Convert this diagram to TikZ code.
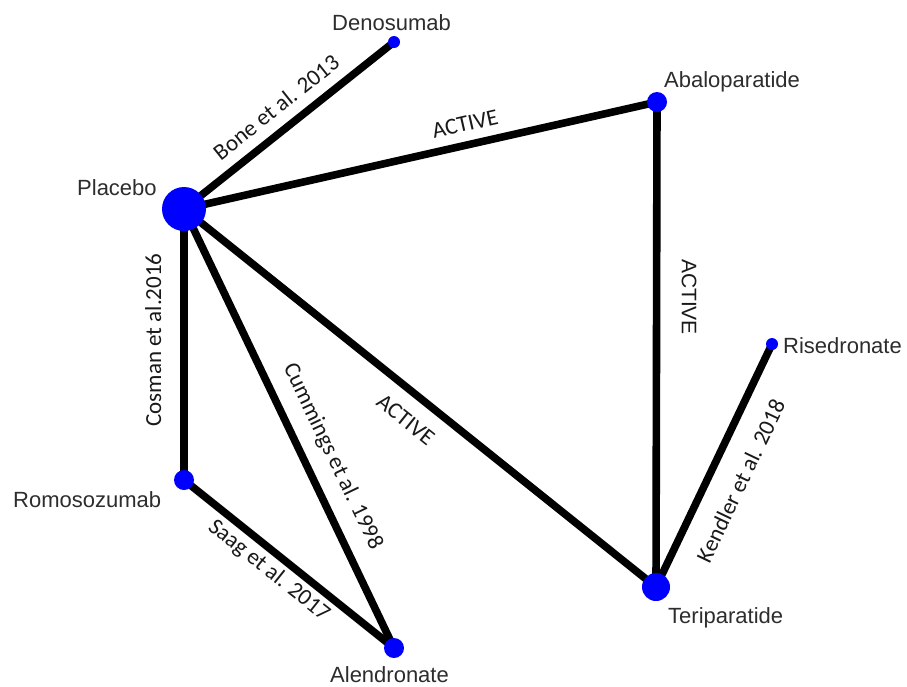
\documentclass[tikz,border=0pt]{standalone}
\usepackage{fontspec}
\setmainfont{Liberation Sans}
\newfontfamily\edgefont{Carlito}
\usetikzlibrary{backgrounds}
\definecolor{treat}{RGB}{0,0,255}
\definecolor{namegray}{RGB}{45,45,45}
\definecolor{studyink}{RGB}{25,25,25}
\begin{document}
\begin{tikzpicture}[x=1pt,y=-1pt,
  treatment/.style={circle,fill=treat,draw=none,inner sep=0pt,minimum size=#1},
  trial/.style={line width=7.6pt,black},
  drugname/.style={anchor=base west,inner sep=0pt,text=namegray,font=\fontsize{22}{26}\selectfont},
  study/.style={inner sep=0pt,text height=0.62em,text depth=0pt,text=studyink,font=\edgefont\fontsize{23}{27}\selectfont}]
\useasboundingbox (0,0) rectangle (907,686);

% treatments (dot size grows with the number of trials)
\node[treatment=44pt] (plac) at (184,209) {};
\node[treatment=12pt] (deno) at (394,42) {};
\node[treatment=20pt] (abal) at (657,102) {};
\node[treatment=12pt] (rise) at (772,344) {};
\node[treatment=28pt] (teri) at (656,587) {};
\node[treatment=20pt] (romo) at (184,480) {};
\node[treatment=20pt] (alen) at (394,648) {};

% white page and trials, drawn beneath the dots
\begin{scope}[on background layer]
\fill[white] (0,0) rectangle (907,686);
\draw[trial] (plac.center) -- (deno.center);
\draw[trial] (plac.center) -- (abal.center);
\draw[trial] (plac.center) -- (romo.center);
\draw[trial] (plac.center) -- (alen.center);
\draw[trial] (plac.center) -- (teri.center);
\draw[trial] (abal.center) -- (teri.center);
\draw[trial] (rise.center) -- (teri.center);
\draw[trial] (romo.center) -- (alen.center);
\end{scope}

% treatment names
\node[drugname] (lplac) at (77,195) {Placebo};
\node[drugname] (ldeno) at (332,30) {Denosumab};
\node[drugname] (labal) at (664,87) {Abaloparatide};
\node[drugname] (lrise) at (783,353) {Risedronate};
\node[drugname] (lteri) at (668,623) {Teriparatide};
\node[drugname] (lromo) at (13,507) {Romosozumab};
\node[drugname] (lalen) at (330,682) {Alendronate};

% trial labels
\node[study,rotate=38.5] (sbone) at (279,111) {Bone et al. 2013};
\node[study,rotate=12.8] (sact1) at (466,128) {ACTIVE};
\node[study,rotate=90] (scosm) at (158,340) {Cosman et al.2016};
\node[study,rotate=-64.4] (scumm) at (330,458) {Cummings et al. 1998};
\node[study,rotate=-38.7] (sact2) at (403,423) {ACTIVE};
\node[study,rotate=-38.7] (ssaag) at (267,573) {Saag et al. 2017};
\node[study,rotate=-90,font=\fontsize{21}{25}\selectfont] (sact3) at (685,297) {ACTIVE};
\node[study,rotate=64.5] (skend) at (745,483) {Kendler et al. 2018};
\end{tikzpicture}
\end{document}
